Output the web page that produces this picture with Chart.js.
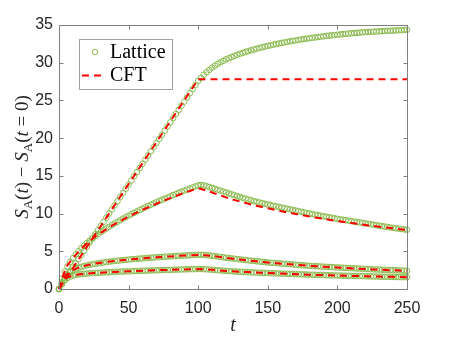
<!DOCTYPE html>
<html>
<head>
<meta charset="utf-8">
<script src="https://cdn.jsdelivr.net/npm/chart.js@4.4.1/dist/chart.umd.min.js"></script>
<style>
html,body{margin:0;padding:0;background:#fff;}
canvas{display:block;}
</style>
</head>
<body>
<canvas id="c" width="450" height="338"></canvas>
<script>
// ---- data ----
const latticeT = [0,2,4,6,8,10,12,14,16,18,20,22,24,26,28,30,32,34,36,38,40,42,44,46,48,50,52,54,56,58,60,62,64,66,68,70,72,74,76,78,80,82,84,86,88,90,92,94,96,98,100,102,104,106,108,110,112,114,116,118,120,122,124,126,128,130,132,134,136,138,140,142,144,146,148,150,152,154,156,158,160,162,164,166,168,170,172,174,176,178,180,182,184,186,188,190,192,194,196,198,200,202,204,206,208,210,212,214,216,218,220,222,224,226,228,230,232,234,236,238,240,242,244,246,248,250];

const latticeA = [0,0.6,1.2,1.75,2.3,2.85,3.4,3.95,4.5,5.05,5.6,6.15,6.7,7.25,7.8,8.35,8.9,9.45,10.0,10.55,11.1,11.65,12.2,12.75,13.3,13.85,14.4,14.95,15.5,16.05,16.6,17.15,17.7,18.25,18.8,19.35,19.9,20.45,21.0,21.55,22.1,22.65,23.2,23.75,24.3,24.85,25.4,25.95,26.5,27.05,27.6,
28.0,28.4,28.75,29.05,29.35,29.6,29.85,30.05,30.25,30.45,30.6,30.75,30.9,31.05,31.2,31.3,31.42,31.54,31.65,31.76,31.86,31.96,32.05,32.14,32.23,32.31,32.39,32.47,32.55,32.62,32.69,32.76,32.83,32.9,32.96,33.02,33.08,33.14,33.2,33.25,33.3,33.35,33.4,33.45,33.5,33.55,33.59,33.63,33.67,33.71,33.75,33.79,33.83,33.87,33.9,33.93,33.96,33.99,34.02,34.05,34.08,34.1,34.12,34.14,34.16,34.18,34.2,34.22,34.24,34.26,34.28,34.3,34.32,34.34,34.36];

const latticeB = [0,1.4,2.3,3.0,3.6,4.1,4.6,5.0,5.4,5.75,6.1,6.4,6.7,7.0,7.28,7.53,7.78,8.02,8.25,8.48,8.7,8.91,9.12,9.33,9.53,9.72,9.92,10.1,10.29,10.47,10.65,10.83,11.0,11.17,11.34,11.5,11.67,11.83,11.99,12.14,12.3,12.45,12.6,12.75,12.9,13.04,13.19,13.33,13.47,13.61,13.75,
13.8,13.74,13.64,13.52,13.4,13.28,13.16,13.04,12.92,12.8,12.68,12.56,12.44,12.32,12.2,12.09,11.98,11.87,11.76,11.65,11.56,11.47,11.38,11.29,11.2,11.12,11.04,10.96,10.88,10.8,10.72,10.64,10.56,10.48,10.4,10.32,10.24,10.16,10.08,10.0,9.93,9.86,9.79,9.72,9.65,9.58,9.51,9.44,9.37,9.3,9.24,9.18,9.12,9.06,9.0,8.94,8.88,8.82,8.76,8.7,8.64,8.58,8.52,8.46,8.4,8.34,8.28,8.22,8.16,8.1,8.05,8.0,7.95,7.9,7.85];

const latticeC = [0,0.9,1.5,1.95,2.25,2.5,2.68,2.82,2.94,3.04,3.13,3.21,3.28,3.35,3.41,3.47,3.52,3.57,3.62,3.67,3.71,3.75,3.79,3.83,3.87,3.9,3.94,3.97,4.0,4.03,4.06,4.09,4.12,4.15,4.18,4.2,4.23,4.25,4.28,4.3,4.32,4.35,4.37,4.39,4.41,4.43,4.45,4.47,4.49,4.51,4.53,
4.54,4.52,4.49,4.45,4.4,4.35,4.3,4.25,4.2,4.15,4.1,4.06,4.01,3.97,3.92,3.88,3.84,3.8,3.76,3.72,3.68,3.64,3.6,3.56,3.52,3.49,3.46,3.43,3.4,3.37,3.34,3.31,3.28,3.25,3.22,3.19,3.16,3.13,3.1,3.07,3.05,3.03,3.01,2.98,2.96,2.94,2.92,2.9,2.88,2.86,2.84,2.82,2.8,2.78,2.76,2.74,2.72,2.7,2.68,2.66,2.64,2.62,2.6,2.59,2.57,2.55,2.54,2.52,2.51,2.49,2.48,2.46,2.45,2.43,2.42];

const latticeD = [0,0.7,1.15,1.45,1.65,1.78,1.87,1.93,1.98,2.02,2.05,2.08,2.11,2.13,2.15,2.17,2.19,2.21,2.23,2.25,2.27,2.29,2.3,2.32,2.33,2.35,2.36,2.38,2.39,2.4,2.42,2.43,2.44,2.46,2.47,2.48,2.5,2.51,2.52,2.53,2.54,2.55,2.57,2.58,2.59,2.6,2.61,2.62,2.63,2.64,2.65,
2.65,2.63,2.61,2.58,2.55,2.52,2.49,2.46,2.43,2.4,2.38,2.35,2.33,2.31,2.29,2.27,2.25,2.23,2.21,2.19,2.18,2.16,2.15,2.13,2.12,2.1,2.09,2.07,2.06,2.04,2.03,2.01,2.0,1.98,1.97,1.96,1.94,1.93,1.92,1.9,1.89,1.88,1.86,1.85,1.84,1.83,1.82,1.81,1.8,1.79,1.78,1.77,1.76,1.75,1.74,1.73,1.72,1.71,1.7,1.69,1.68,1.67,1.66,1.65,1.64,1.63,1.62,1.62,1.61,1.6,1.59,1.58,1.57,1.57,1.56];

const cftT = [0,5,10,15,20,25,30,35,40,45,50,55,60,65,70,75,80,85,90,95,100,105,110,115,120,125,130,135,140,145,150,155,160,165,170,175,180,185,190,195,200,205,210,215,220,225,230,235,240,245,250];

const cftA = [0,1.39,2.78,4.17,5.56,6.95,8.34,9.73,11.12,12.51,13.9,15.29,16.68,18.07,19.46,20.85,22.24,23.63,25.02,26.41,27.8,
27.8,27.8,27.8,27.8,27.8,27.8,27.8,27.8,27.8,27.8,27.8,27.8,27.8,27.8,27.8,27.8,27.8,27.8,27.8,27.8,27.8,27.8,27.8,27.8,27.8,27.8,27.8,27.8,27.8,27.8];

const cftB = [0,2.9,4.1,5.15,6.05,6.8,7.45,8.05,8.6,9.1,9.6,10.05,10.5,10.9,11.3,11.7,12.05,12.4,12.75,13.05,13.38,
13.1,12.8,12.45,12.15,11.85,11.6,11.35,11.1,10.9,10.7,10.5,10.3,10.12,9.95,9.78,9.6,9.45,9.3,9.15,9.0,8.87,8.74,8.62,8.5,8.38,8.26,8.15,8.04,7.93,7.82];

const cftC = [0,1.9,2.5,2.9,3.15,3.35,3.48,3.6,3.7,3.8,3.9,3.98,4.06,4.13,4.2,4.26,4.32,4.38,4.43,4.48,4.52,
4.47,4.38,4.26,4.13,4.01,3.9,3.8,3.7,3.6,3.51,3.44,3.36,3.29,3.21,3.14,3.06,3.01,2.95,2.9,2.85,2.8,2.75,2.7,2.65,2.6,2.56,2.52,2.48,2.44,2.41];

const cftD = [0,1.5,1.78,1.95,2.05,2.12,2.17,2.22,2.27,2.31,2.35,2.39,2.42,2.46,2.49,2.52,2.54,2.57,2.59,2.62,2.64,
2.62,2.55,2.47,2.4,2.34,2.29,2.24,2.19,2.15,2.12,2.08,2.04,2.01,1.97,1.94,1.9,1.87,1.84,1.82,1.79,1.77,1.74,1.72,1.69,1.67,1.65,1.63,1.61,1.59,1.56];

const xTicks = [0,50,100,150,200,250];
const yTicks = [0,5,10,15,20,25,30,35];
const legendLabels = ['Lattice','CFT'];

// ---- styles ----
const GREEN = '#80B440';
const RED = '#FF0000';
const AXIS = '#808080';
const TEXT = '#262626';

function pts(xs, ys){ return xs.map((x,i)=>({x:x, y:ys[i]})); }

function cftSet(ys){
  return {label:'CFT', data:pts(cftT, ys), borderColor:RED, borderWidth:2, borderDash:[7,5],
          pointRadius:0, fill:false, tension:0, showLine:true, clip:false};
}
function latSet(ys){
  return {label:'Lattice', data:pts(latticeT, ys), showLine:false, pointRadius:2.8, pointHoverRadius:2.8,
          pointBorderWidth:0.9, pointBorderColor:GREEN, pointBackgroundColor:'rgba(0,0,0,0)', clip:false};
}

const boxPlugin = {
  id:'boxTicks',
  afterDraw(chart){
    const {ctx, chartArea:a, scales:{x, y}} = chart;
    ctx.save();
    ctx.strokeStyle = AXIS; ctx.lineWidth = 1;
    const L = Math.round(a.left)+0.5, R = Math.round(a.right)+0.5, T = Math.round(a.top)+0.5, B = Math.round(a.bottom)+0.5;
    ctx.beginPath();
    ctx.rect(L, T, R-L, B-T);
    const tl = 4;
    xTicks.forEach(v=>{
      const px = Math.round(x.getPixelForValue(v))+0.5;
      ctx.moveTo(px, B); ctx.lineTo(px, B-tl);
      ctx.moveTo(px, T); ctx.lineTo(px, T+tl);
    });
    yTicks.forEach(v=>{
      const py = Math.round(y.getPixelForValue(v))+0.5;
      ctx.moveTo(L, py); ctx.lineTo(L+tl, py);
      ctx.moveTo(R, py); ctx.lineTo(R-tl, py);
    });
    ctx.stroke();

    // legend
    const lx = 79.5, ly = 39.5, lw = 93, lh = 50;
    ctx.fillStyle = '#fff';
    ctx.fillRect(lx, ly, lw, lh);
    ctx.strokeStyle = '#a0a0a0';
    ctx.strokeRect(lx, ly, lw, lh);
    ctx.beginPath();
    ctx.strokeStyle = GREEN; ctx.lineWidth = 0.9;
    ctx.arc(95, 52, 2.8, 0, Math.PI*2);
    ctx.stroke();
    ctx.beginPath();
    ctx.strokeStyle = RED; ctx.lineWidth = 2; ctx.setLineDash([7,5]);
    ctx.moveTo(82, 75.5); ctx.lineTo(106, 75.5);
    ctx.stroke();
    ctx.setLineDash([]);
    ctx.fillStyle = '#000';
    ctx.font = '20px "Liberation Serif"';
    ctx.textBaseline = 'alphabetic'; ctx.textAlign = 'left';
    ctx.fillText(legendLabels[0], 110, 58);
    ctx.fillText(legendLabels[1], 110, 81);

    // x title
    ctx.fillStyle = TEXT;
    ctx.font = 'italic 20px "Liberation Serif"';
    ctx.textAlign = 'center';
    ctx.fillText('t', (a.left+a.right)/2, 331);

    // y title (math with subscripts)
    const parts = [
      ['S','italic',19,0],['A','normal',13,4],['(','normal',19,0],['t','italic',19,0],[')','normal',19,0],
      [' \u2212 ','normal',19,0],
      ['S','italic',19,0],['A','normal',13,4],['(','normal',19,0],['t','italic',19,0],[' = 0)','normal',19,0]
    ];
    ctx.textAlign = 'left';
    let w = 0;
    parts.forEach(p=>{ ctx.font = p[1]+' '+p[2]+'px "Liberation Serif"'; w += ctx.measureText(p[0]).width; });
    ctx.translate(28, (a.top+a.bottom)/2);
    ctx.rotate(-Math.PI/2);
    let cx = -w/2;
    parts.forEach(p=>{
      ctx.font = p[1]+' '+p[2]+'px "Liberation Serif"';
      ctx.fillText(p[0], cx, p[3]);
      cx += ctx.measureText(p[0]).width;
    });
    ctx.restore();
  }
};

new Chart(document.getElementById('c'), {
  type:'scatter',
  data:{ datasets:[ cftSet(cftA), cftSet(cftB), cftSet(cftC), cftSet(cftD),
                    latSet(latticeA), latSet(latticeB), latSet(latticeC), latSet(latticeD) ] },
  options:{
    responsive:false, animation:false, devicePixelRatio:1,
    layout:{ padding:{ top:25, right:43, left:0, bottom:0 } },
    plugins:{ legend:{display:false}, tooltip:{enabled:false} },
    scales:{
      x:{ type:'linear', min:0, max:250,
          afterBuildTicks: s => { s.ticks = xTicks.map(v=>({value:v})); },
          afterFit: s => { s.height = 49; },
          grid:{ display:false, drawTicks:false, tickLength:0 }, border:{ display:false },
          ticks:{ color:TEXT, font:{ family:'"Liberation Sans", Arial', size:16 }, padding:10, maxRotation:0 } },
      y:{ type:'linear', min:0, max:35,
          afterBuildTicks: s => { s.ticks = yTicks.map(v=>({value:v})); },
          afterFit: s => { s.width = 59; },
          grid:{ display:false, drawTicks:false, tickLength:0 }, border:{ display:false },
          ticks:{ color:TEXT, font:{ family:'"Liberation Sans", Arial', size:16 }, padding:6 } }
    }
  },
  plugins:[boxPlugin]
});
</script>
</body>
</html>
